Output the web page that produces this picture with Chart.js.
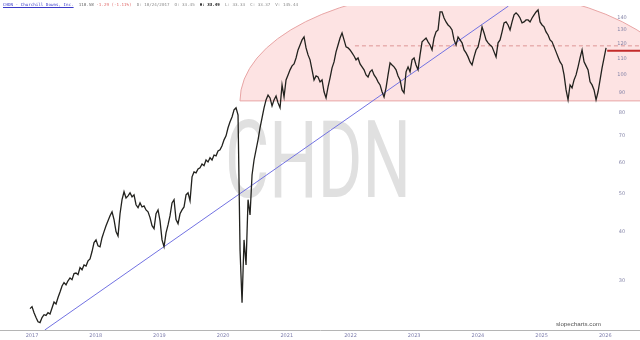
<!DOCTYPE html>
<html>
<head>
<meta charset="utf-8">
<script src="https://cdn.jsdelivr.net/npm/chart.js@4/dist/chart.umd.min.js"></script>
<style>
  body { margin: 0; background: #fff; }
  #wrap { position: relative; width: 640px; height: 340px; }
  #head { position: absolute; left: 3px; top: 2px; font: 4.2px "DejaVu Sans Mono", monospace; line-height: 5px; white-space: pre; color: #888; }
  #head .sym { color: #3a3ac8; text-decoration: underline; }
  #head .px { color: #666; }
  #head .dn { color: #e06a6a; }
  #head b { color: #222; }
</style>
</head>
<body>
<div id="wrap">
  <canvas id="chart" width="640" height="340"></canvas>
  <div id="head"><span class="sym">CHDN - Churchill Downs, Inc.</span>  <span class="px">110.58</span> <span class="dn">-1.29</span> <span class="dn">(-1.11%)</span>  D: 10/24/2017  O: 33.45  <b>H: 33.49</b>  L: 33.33  C: 33.37  V: 145.44</div>
</div>
<script>
// price samples, roughly every ~11 days from early 2017 to early 2026
const firstYear = 2016.969;
const stepYears = 0.0314;
const closes = [
  25.5, 25.8, 24.9, 24.2, 23.6, 23.5, 24.2, 24.6, 24.5, 24.9, 24.7, 25.6, 26.5, 26.2, 27.2, 28.1,
  29.1, 29.7, 29.3, 30.0, 30.5, 30.2, 31.3, 31.4, 31.1, 32.4, 32.0, 32.9, 32.7, 33.7, 34.1, 35.6, 37.5, 38.1, 36.8, 36.6,
  38.6, 40.0, 41.4, 42.6, 43.9, 44.9, 42.9, 40.0, 39.0, 44.4, 48.2, 50.5, 48.7, 49.3, 50.2, 49.0, 49.6, 46.8, 46.0, 47.3,
  46.2, 46.5, 45.4, 44.9, 43.4, 41.4, 40.7, 44.4, 45.4, 42.6,
  38.1, 36.6, 39.7, 41.6, 43.9, 47.3, 48.2, 42.9, 41.9, 44.4, 45.4, 46.2, 49.6, 50.2, 47.9, 55.1, 56.7, 56.4, 57.7, 58.1,
  59.4, 58.8, 60.8, 60.1, 61.6, 60.8, 62.6, 62.3, 64.1, 64.5, 66.1, 68.4, 70.0, 73.4, 76.0, 78.2, 81.5, 82.5,
  79.1, 35.9, 26.4, 38.1, 32.9, 48.2, 44.1, 55.7, 60.8, 64.5, 68.4, 73.4, 77.8, 82.5, 86.4, 88.9, 87.4, 83.4, 86.4, 88.4,
  84.9, 82.5, 94.3, 87.9, 97.1, 100.0, 103.0, 105.4, 106.6, 110.4, 115.7, 119.1,
  122.7, 124.8, 117.1, 112.4, 109.2, 103.0, 97.1, 99.4, 98.8, 96.0, 97.1, 90.6, 87.4, 93.2, 98.3, 104.2, 107.9, 114.4,
  119.1, 124.1, 127.8, 122.7, 117.8, 117.1, 115.7, 113.7, 111.7, 109.2, 110.4, 106.6, 104.8, 103.0, 100.0, 98.8, 101.8,
  103.0, 100.0, 98.3, 96.0, 94.3, 90.6, 87.9, 92.7, 100.0, 107.3, 106.0, 104.8, 103.0, 99.4, 97.1,
  91.6, 90.0, 101.8, 104.8, 101.8, 109.2, 110.4, 106.0, 103.0, 112.4, 121.3, 122.7, 124.1, 121.3, 119.1, 115.7, 124.1,
  128.6, 130.1, 144.5, 144.5, 139.5, 136.3, 133.9, 132.4, 130.1, 122.7, 119.1, 124.8, 122.7, 120.6, 115.7, 113.7, 111.1, 107.9,
  106.0, 111.1, 115.7, 117.8, 124.1, 132.4, 127.8, 122.7, 120.6, 119.1, 117.8, 114.4, 111.1, 120.6, 122.7, 128.6, 135.5,
  136.3, 133.9, 130.1, 136.3, 142.0, 143.7, 142.0, 139.5, 135.5, 136.3, 137.9, 137.9, 136.3, 139.5, 142.0, 144.5, 146.2, 136.3,
  133.9, 132.4, 128.6, 126.3, 122.7, 121.3, 117.8, 114.4, 111.1, 107.9, 106.0, 100.0, 91.6, 86.4, 94.3, 92.7, 97.1, 100.0,
  104.8, 110.4, 115.7, 107.9, 105.4, 103.0, 96.0, 94.3, 91.6, 86.4, 90.6, 97.1, 104.2, 110.4, 117.1
];
const yearTicks = [2017, 2018, 2019, 2020, 2021, 2022, 2023, 2024, 2025, 2026];
const priceTicks = [30, 40, 50, 60, 70, 80, 90, 100, 110, 120, 130, 140];

// drawn annotations
const trendYears = [2017.2, 2024.48];
const trendPrices = [22.5, 149.6];
const zoneStartYear = 2020.265, zoneCenterYear = 2023.78;
const zoneBase = 85.9, zoneTop = 165.3;
const resistYears = [2022.07, 2026.55];
const resistPrice = 118.5;
const lastYears = [2026.03, 2026.55];
const lastPrice = 115.1;

const priceData = closes.map((c, i) => ({ x: firstYear + i * stepYears, y: c }));

const decor = {
  id: 'decor',
  beforeDatasetsDraw(chart) {
    const ctx = chart.ctx, a = chart.chartArea;
    const xs = chart.scales.x, ys = chart.scales.y;
    const cx = xs.getPixelForValue(zoneCenterYear);
    const rx = cx - xs.getPixelForValue(zoneStartYear);
    const cy = ys.getPixelForValue(zoneBase);
    const ry = cy - ys.getPixelForValue(zoneTop);
    ctx.save();
    ctx.beginPath();
    ctx.rect(a.left, a.top, a.right - a.left, a.bottom - a.top);
    ctx.clip();
    ctx.beginPath();
    ctx.ellipse(cx, cy, rx, ry, 0, Math.PI, 2 * Math.PI);
    ctx.closePath();
    ctx.fillStyle = '#fde3e3';
    ctx.fill();
    ctx.strokeStyle = '#e8a5a5';
    ctx.lineWidth = 1;
    ctx.stroke();
    ctx.restore();

    // watermark
    ctx.save();
    ctx.fillStyle = '#e0e0e0';
    ctx.font = '108px Roboto, "Liberation Sans", sans-serif';
    ctx.textAlign = 'center';
    ctx.textBaseline = 'alphabetic';
    ctx.translate(318, 197);
    ctx.scale(0.63, 1);
    ctx.fillText('CHDN', 0, 0);
    ctx.restore();
  },
  afterDatasetsDraw(chart) {
    const ctx = chart.ctx, ys = chart.scales.y;
    ctx.save();
    ctx.font = '5px "DejaVu Sans", sans-serif';
    ctx.fillStyle = '#8585a8';
    ctx.textAlign = 'center';
    ctx.textBaseline = 'middle';
    priceTicks.forEach(v => ctx.fillText(String(v), 622, ys.getPixelForValue(v)));
    ctx.font = '6.2px "Liberation Sans", sans-serif';
    ctx.fillStyle = '#555';
    ctx.textAlign = 'right';
    ctx.fillText('slopecharts.com', 601, 324);
    ctx.restore();
  }
};

new Chart(document.getElementById('chart'), {
  type: 'line',
  data: {
    datasets: [
      { data: priceData, borderColor: '#22221e', borderWidth: 1.3, pointRadius: 0, tension: 0 },
      { data: trendYears.map((t, i) => ({ x: t, y: trendPrices[i] })), borderColor: '#7272e2', borderWidth: 1, pointRadius: 0 },
      { data: resistYears.map(t => ({ x: t, y: resistPrice })), borderColor: '#de9696', borderWidth: 1, borderDash: [4, 3], pointRadius: 0 },
      { data: lastYears.map(t => ({ x: t, y: lastPrice })), borderColor: '#c32a2a', borderWidth: 2, pointRadius: 0 }
    ]
  },
  options: {
    responsive: false,
    animation: false,
    layout: { padding: { top: 6, left: 0, right: 0, bottom: 0 } },
    plugins: { legend: { display: false }, tooltip: { enabled: false } },
    scales: {
      x: {
        type: 'linear',
        min: 2016.4976,
        max: 2026.545,
        grid: { display: false, drawTicks: false },
        border: { display: true, color: '#b5b5b5' },
        afterBuildTicks: s => { s.ticks = yearTicks.map(v => ({ value: v })); },
        afterFit: s => { s.height = 10; },
        ticks: {
          autoSkip: false,
          maxRotation: 0,
          padding: 3,
          color: '#7f7fae',
          font: { size: 5, family: 'DejaVu Sans' },
          callback: v => String(v)
        }
      },
      y: {
        type: 'logarithmic',
        min: 22.5,
        max: 149.6,
        display: false
      }
    }
  },
  plugins: [decor]
});
</script>
</body>
</html>
